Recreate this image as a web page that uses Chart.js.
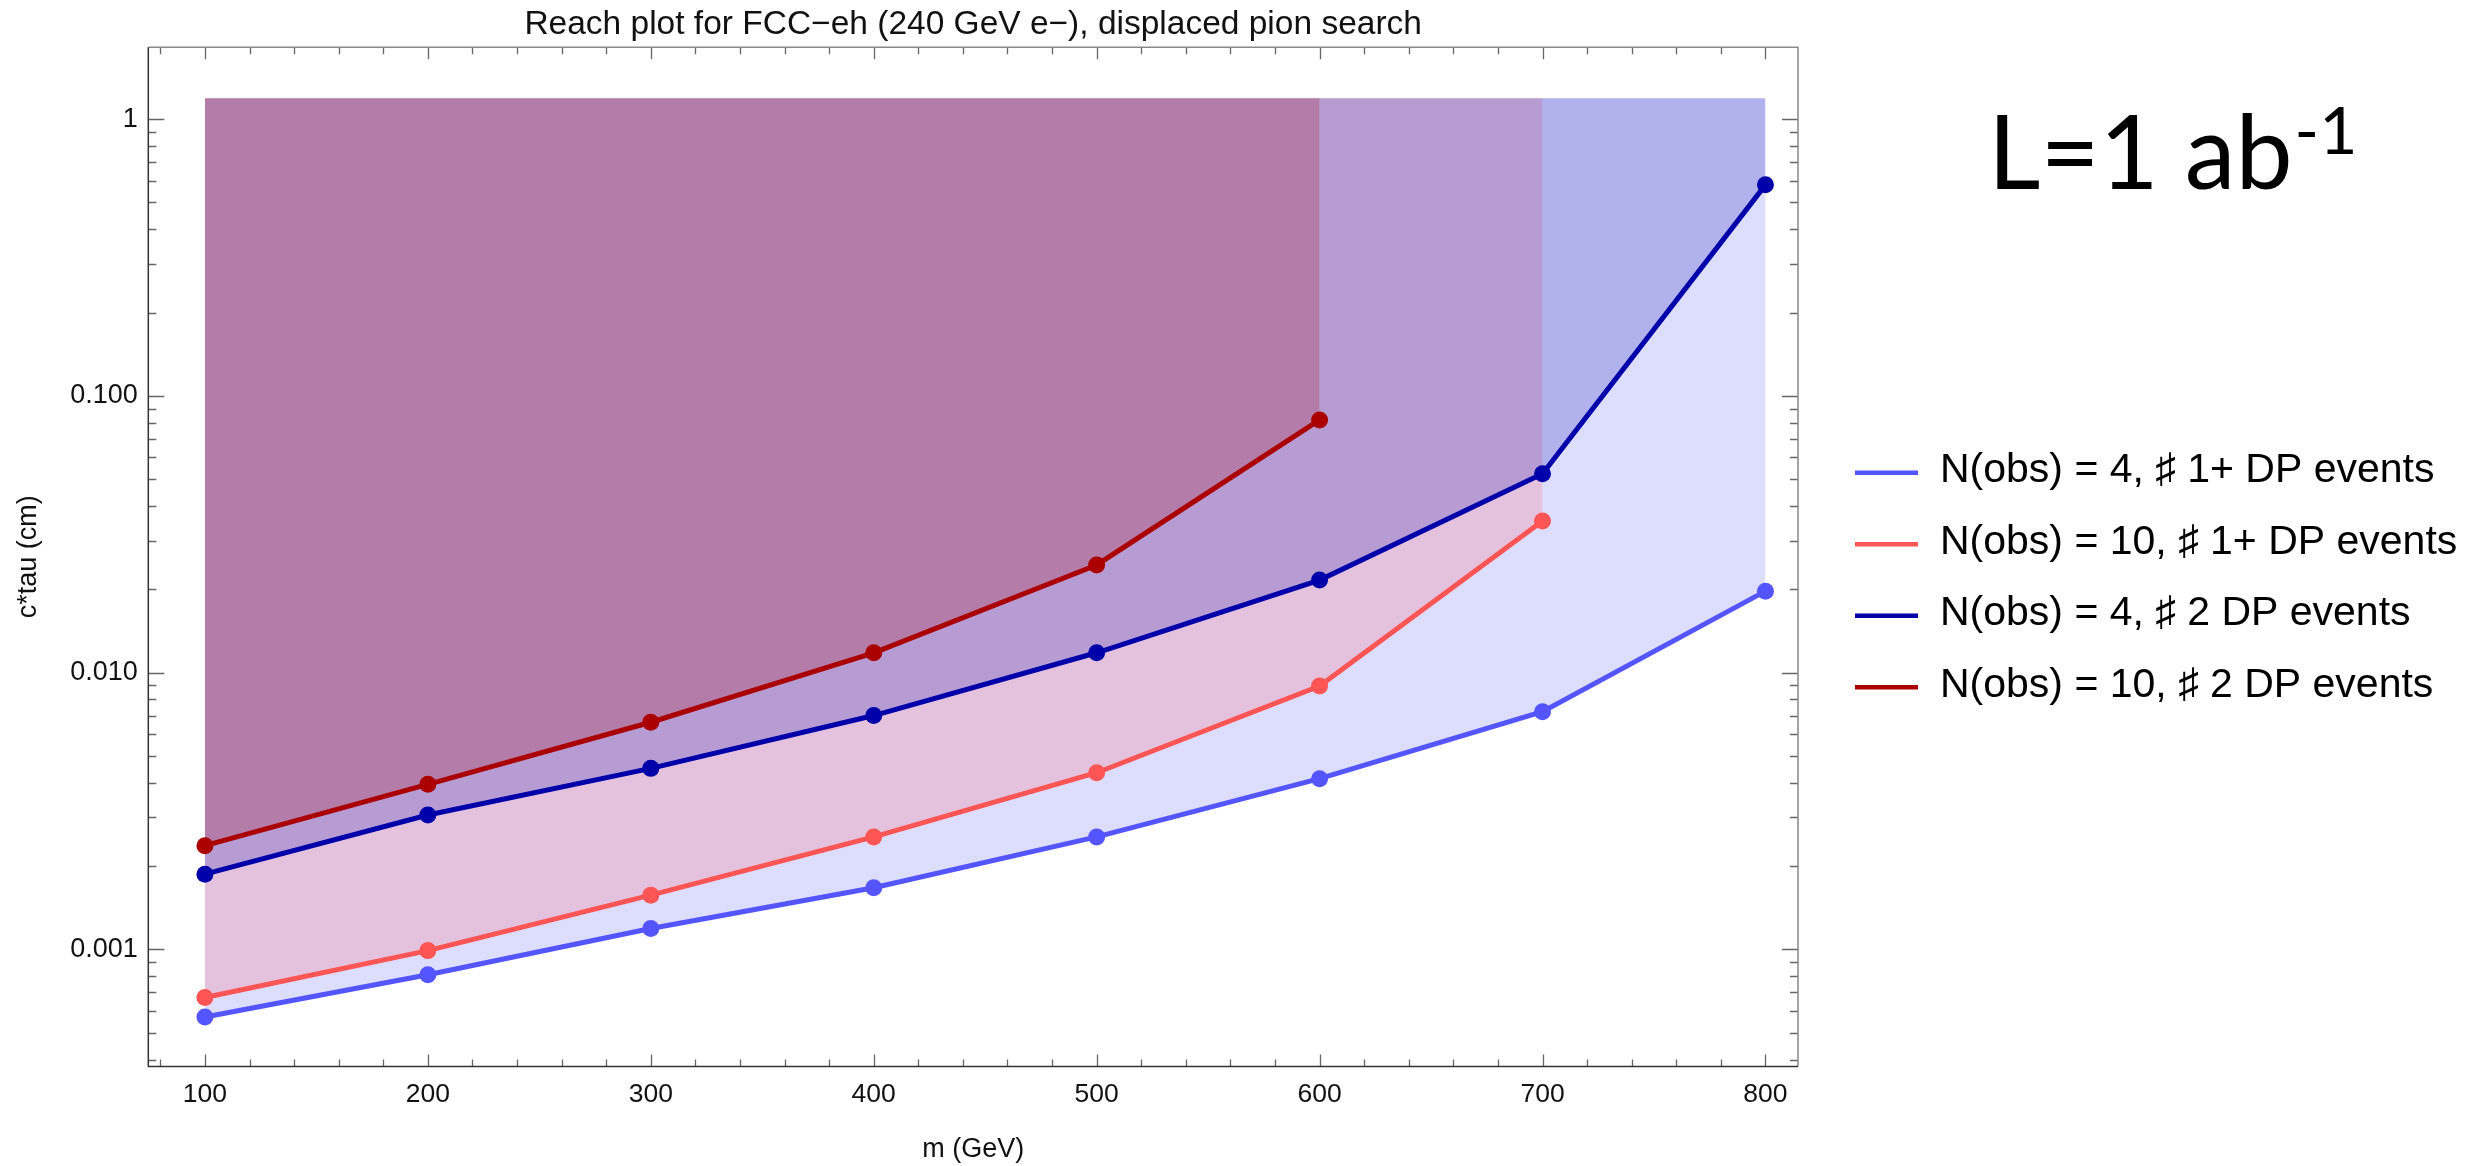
<!DOCTYPE html>
<html>
<head>
<meta charset="utf-8">
<title>Reach plot for FCC-eh, displaced pion search</title>
<script src="https://cdn.jsdelivr.net/npm/chart.js@4.4.1/dist/chart.umd.min.js"></script>
<style>
  html, body { margin: 0; padding: 0; background: #fff; }
  #wrap { width: 2490px; height: 1166px; }
</style>
</head>
<body>
<div id="wrap"><canvas id="reach" width="2490" height="1166"></canvas></div>
<script>
// masses (GeV) and c*tau reach (cm)
const masses = [100, 200, 300, 400, 500, 600, 700, 800];
const obs4OnePlus = [0.00057, 0.00081, 0.00119, 0.00167, 0.00255, 0.00414, 0.00723, 0.0197];
const obs10OnePlus = [0.00067, 0.00099, 0.00157, 0.00255, 0.00435, 0.00895, 0.0353];
const obs4Two = [0.00187, 0.00306, 0.00451, 0.0070, 0.0118, 0.0216, 0.0523, 0.579];
const obs10Two = [0.00237, 0.00395, 0.00662, 0.0118, 0.0245, 0.0819];
const fillTop = 1.19;

const seriesNames = [
  'N(obs) = 4, \u266F 1+ DP events',
  'N(obs) = 10, \u266F 1+ DP events',
  'N(obs) = 4, \u266F 2 DP events',
  'N(obs) = 10, \u266F 2 DP events'
];
const seriesColors = ['85, 85, 255', '255, 85, 85', '0, 0, 170', '170, 0, 0'];

const xTicks = [100, 200, 300, 400, 500, 600, 700, 800];
const yTicks = [0.001, 0.01, 0.1, 1];
const yTickLabels = ['0.001', '0.010', '0.100', '1'];

const FONT = '"Liberation Sans", Arial, Helvetica, sans-serif';
Chart.defaults.font.family = FONT;
Chart.defaults.color = '#111';

const allSeries = [obs4OnePlus, obs10OnePlus, obs4Two, obs10Two];
const datasets = allSeries.map((vals, i) => ({
  label: seriesNames[i],
  data: vals.map((v, j) => ({ x: masses[j], y: v })),
  borderColor: `rgb(${seriesColors[i]})`,
  backgroundColor: `rgba(${seriesColors[i]}, 0.2)`,
  pointBackgroundColor: `rgb(${seriesColors[i]})`,
  pointBorderWidth: 0,
  pointRadius: 8.5,
  borderWidth: 5,
  tension: 0,
  fill: { value: fillTop },
  order: allSeries.length - i
}));

// frame with inward ticks on all four sides (Mathematica style)
const frameTicks = {
  id: 'frameTicks',
  afterDatasetsDraw(chart) {
    const { ctx, chartArea: a, scales: { x, y } } = chart;
    ctx.save();
    ctx.lineWidth = 1.3;
    ctx.strokeStyle = '#666';
    ctx.beginPath();
    for (let v = 80; v <= x.max; v += 20) {
      const px = Math.round(x.getPixelForValue(v)) + 0.5;
      const len = v % 100 === 0 ? 12 : 7;
      ctx.moveTo(px, a.bottom); ctx.lineTo(px, a.bottom - len);
      ctx.moveTo(px, a.top); ctx.lineTo(px, a.top + len);
    }
    for (let e = -4; e <= 0; e++) {
      for (let k = 1; k <= 9; k++) {
        const v = k * Math.pow(10, e);
        if (v < y.min || v > y.max) continue;
        const py = Math.round(y.getPixelForValue(v)) + 0.5;
        const len = k === 1 ? 16 : 8;
        ctx.moveTo(a.left, py); ctx.lineTo(a.left + len, py);
        ctx.moveTo(a.right, py); ctx.lineTo(a.right - len, py);
      }
    }
    ctx.stroke();

    ctx.lineWidth = 1.5;
    ctx.strokeStyle = '#888';
    ctx.beginPath();
    ctx.moveTo(a.left, a.top); ctx.lineTo(a.right, a.top); ctx.lineTo(a.right, a.bottom);
    ctx.stroke();
    ctx.strokeStyle = '#333';
    ctx.beginPath();
    ctx.moveTo(a.left, a.top); ctx.lineTo(a.left, a.bottom); ctx.lineTo(a.right, a.bottom);
    ctx.stroke();
    ctx.restore();
  }
};

// legend and luminosity label to the right of the frame
const sideNotes = {
  id: 'sideNotes',
  afterDraw(chart) {
    const ctx = chart.ctx;
    ctx.save();
    ctx.font = `41px ${FONT}`;
    ctx.textBaseline = 'middle';
    seriesNames.forEach((name, i) => {
      const yy = 472.7 + i * 71.5;
      ctx.strokeStyle = `rgb(${seriesColors[i]})`;
      ctx.lineWidth = 4.5;
      ctx.beginPath();
      ctx.moveTo(1855, yy);
      ctx.lineTo(1918, yy);
      ctx.stroke();
      ctx.fillStyle = '#000';
      ctx.fillText(name, 1940, yy - 2);
    });

    ctx.textBaseline = 'alphabetic';
    ctx.font = '102px Lato, "Open Sans", sans-serif';
    ctx.fillText('L=1 ab', 1988, 189);
    const w = ctx.measureText('L=1 ab').width;
    ctx.font = '66px Lato, "Open Sans", sans-serif';
    ctx.fillText('-1', 1988 + w + 2, 154);
    ctx.restore();
  }
};

new Chart(document.getElementById('reach'), {
  type: 'line',
  data: { datasets },
  options: {
    responsive: false,
    animation: false,
    layout: { padding: { left: 0, right: 692, top: 0, bottom: 0 } },
    plugins: {
      legend: { display: false },
      tooltip: { enabled: false },
      filler: { drawTime: 'beforeDatasetsDraw' },
      title: {
        display: true,
        text: 'Reach plot for FCC\u2212eh (240 GeV e\u2212), displaced pion search',
        fullSize: false,
        color: '#111',
        font: { size: 33.5, weight: 'normal', lineHeight: 1.2 },
        padding: { top: 5, bottom: 2 }
      }
    },
    scales: {
      x: {
        type: 'linear',
        min: 74.6,
        max: 814.6,
        bounds: 'data',
        grid: { display: false, drawTicks: false },
        border: { display: false },
        ticks: {
          padding: 12,
          autoSkip: false,
          maxRotation: 0,
          color: '#111',
          font: { size: 26.5 },
          callback: v => String(v)
        },
        afterBuildTicks: s => { s.ticks = xTicks.map(v => ({ value: v })); },
        afterFit: s => { s.height = 99.5; },
        title: {
          display: true,
          text: 'm (GeV)',
          color: '#111',
          font: { size: 27 },
          padding: { top: 0, bottom: 0 }
        }
      },
      y: {
        type: 'logarithmic',
        min: 0.0003775,
        max: 1.82,
        bounds: 'data',
        grid: { display: false, drawTicks: false },
        border: { display: false },
        ticks: {
          padding: 10.5,
          autoSkip: false,
          color: '#111',
          font: { size: 27 },
          callback: (v, i) => yTickLabels[i]
        },
        afterBuildTicks: s => { s.ticks = yTicks.map(v => ({ value: v })); },
        afterFit: s => { s.width = 148.3; },
        title: {
          display: true,
          text: 'c*tau (cm)',
          color: '#111',
          font: { size: 27 },
          padding: { top: 12, bottom: 0 }
        }
      }
    }
  },
  plugins: [frameTicks, sideNotes]
});
</script>
</body>
</html>
